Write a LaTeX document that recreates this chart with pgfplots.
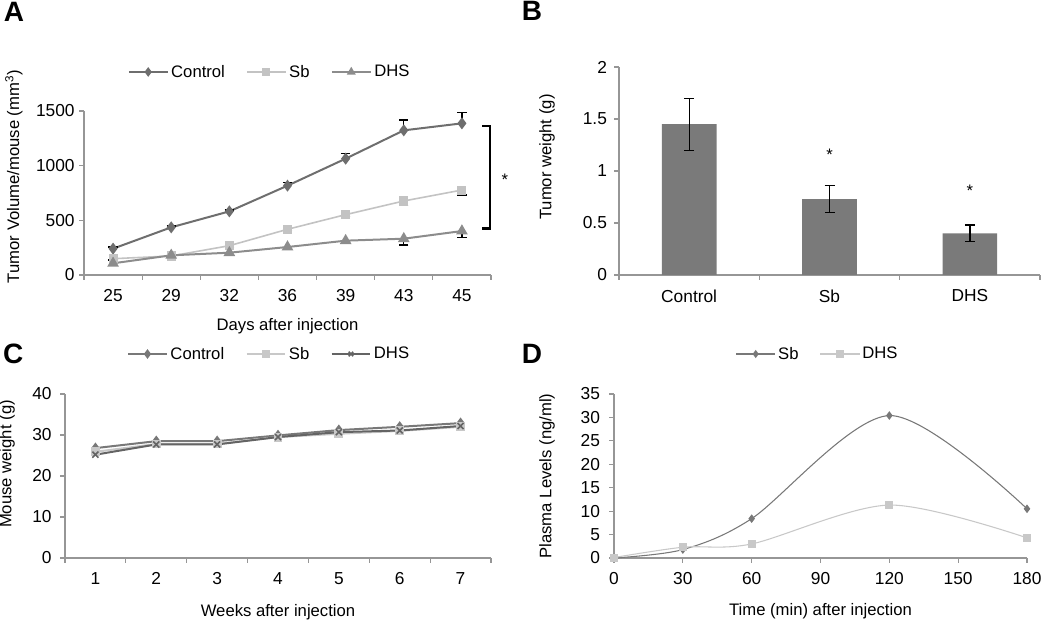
\documentclass[border=0pt]{standalone}
\usepackage{fontspec}
\setmainfont{Liberation Sans}
\usepackage{pgfplots}
\pgfplotsset{compat=1.18}
\definecolor{axgray}{RGB}{150,150,150}
\definecolor{cctrl}{RGB}{110,110,110}
\definecolor{csb}{RGB}{195,195,195}
\definecolor{cdhs}{RGB}{140,140,140}
\definecolor{cbar}{RGB}{122,122,122}
\newcommand{\fs}{\fontsize{12.5}{14}\selectfont}
\newcommand{\ft}{\fontsize{13}{15}\selectfont}
\pgfplotsset{
  base/.style={
    scale only axis,
    axis x line*=bottom, axis y line*=left,
    axis line style={draw=axgray, line width=0.9pt, -},
    tick align=outside,
    major tick length=3.5pt, minor tick length=3.5pt,
    tick style={draw=axgray, line width=0.9pt},
    every tick label/.append style={font=\ft},
    xticklabel style={yshift=-4pt},
    label style={font=\fs},
    /pgf/number format/assume math mode=true,
    /pgf/number format/1000 sep={},
    clip=false,
    legend style={draw=none, fill=none, font=\fs, legend columns=-1, anchor=center,
      /tikz/every even column/.append style={column sep=14pt}},
    legend image code/.code={
      \draw[mark repeat=2,mark phase=2,##1,mark size=2.4pt] plot coordinates {(0pt,0pt) (14.5pt,0pt) (29pt,0pt)};
    },
  },
}
\begin{document}
\begin{tikzpicture}
\path[use as bounding box] (0,0) rectangle (787.5pt,466.5pt);
\node[font=\fontsize{21}{24}\selectfont\bfseries] at (10.5pt,457.5pt) {A};
\node[font=\fontsize{21}{24}\selectfont\bfseries] at (399pt,458.25pt) {B};
\node[font=\fontsize{21}{24}\selectfont\bfseries] at (10pt,201pt) {C};
\node[font=\fontsize{21}{24}\selectfont\bfseries] at (399pt,201pt) {D};

% Panel A
\begin{axis}[base, at={(63pt,260.25pt)}, anchor=south west,
  width=305.25pt, height=123pt,
  xmin=-0.5, xmax=6.5, ymin=0, ymax=1500,
  xtick={0,...,6}, xticklabels={25,29,32,36,39,43,45},
  minor xtick={-0.5,0.5,...,6.5},
  major x tick style={draw=none},
  ytick={0,500,1000,1500},
  xlabel={Days after injection}, ylabel={Tumor Volume/mouse (mm\textsuperscript{3})},
  xlabel style={at={(axis description cs:0.5,-0.31)}, anchor=center},
  ylabel style={at={(axis description cs:-0.172,0.6)}, anchor=center},
  legend style={at={(0.457,1.238)}},
]
\addplot[cctrl, line width=1.5pt, mark=diamond*, mark size=3.3pt, mark options={solid, fill=cctrl},
  error bars/.cd, y dir=plus, y explicit, error bar style={black, line width=0.9pt},
  error mark options={black, rotate=90, mark size=3.5pt, line width=0.9pt}]
coordinates {(0,241) +- (0,15) (1,436) +- (0,12) (2,582) +- (0,12) (3,817) +- (0,28)
  (4,1064) +- (0,49) (5,1323) +- (0,95) (6,1387) +- (0,100)};
\addlegendentry{Control}
\addplot[csb, line width=1.2pt, mark=square*, mark size=2.8pt, mark options={solid, fill=csb},
  error bars/.cd, y dir=minus, y explicit, error bar style={black, line width=0.9pt},
  error mark options={black, rotate=90, mark size=3.5pt, line width=0.9pt}]
coordinates {(0,149) +- (0,12) (1,174) +- (0,10) (2,268) +- (0,12) (3,418) +- (0,10)
  (4,552) +- (0,15) (5,677) +- (0,43) (6,777) +- (0,45)};
\addlegendentry{Sb}
\addplot[cdhs, line width=1.5pt, mark=triangle*, mark size=3.6pt, mark options={solid, fill=cdhs},
  error bars/.cd, y dir=minus, y explicit, error bar style={black, line width=0.9pt},
  error mark options={black, rotate=90, mark size=3.5pt, line width=0.9pt}]
coordinates {(0,107) +- (0,20) (1,180) +- (0,10) (2,204) +- (0,15) (3,256) +- (0,15)
  (4,314) +- (0,18) (5,332) +- (0,58) (6,402) +- (0,61)};
\addlegendentry{DHS}
\draw[black, line width=2pt] (axis cs:6.35,1363) -- (axis cs:6.48,1363) -- (axis cs:6.48,427) -- (axis cs:6.35,427);
\node[font=\fs] at (axis cs:6.74,869) {*};
\end{axis}

% Panel B
\begin{axis}[base, at={(464.25pt,260.25pt)}, anchor=south west,
  width=315.75pt, height=156pt,
  xmin=-0.5, xmax=2.5, ymin=0, ymax=2,
  ybar, bar width=41pt,
  xtick={0,1,2}, xticklabels={Control,Sb,DHS},
  minor xtick={-0.5,0.5,1.5,2.5}, major x tick style={draw=none},
  ytick={0,0.5,1,1.5,2},
  yticklabel style={xshift=-2pt},
  ylabel={Tumor weight (g)},
  ylabel style={at={(axis description cs:-0.171,0.567)}, anchor=center},
]
\addplot[fill=cbar, draw=none,
  error bars/.cd, y dir=both, y explicit, error bar style={black, line width=1pt},
  error mark options={black, rotate=90, mark size=3.75pt, line width=1pt}]
coordinates {(0,1.45) +- (0,0.25) (1,0.73) +- (0,0.13) (2,0.40) +- (0,0.08)};
\node[font=\fs] at (axis cs:1,1.154) {*};
\node[font=\fs] at (axis cs:2,0.81) {*};
\end{axis}

% Panel C
\begin{axis}[base, at={(48.75pt,48pt)}, anchor=south west,
  width=319.5pt, height=123pt,
  xmin=0.5, xmax=7.5, ymin=0, ymax=40,
  xtick={1,...,7}, minor xtick={0.5,1.5,...,7.5}, major x tick style={draw=none},
  ytick={0,10,20,30,40},
  yticklabel style={xshift=-3pt},
  xlabel={Weeks after injection}, ylabel={Mouse weight (g)},
  xlabel style={at={(axis description cs:0.5,-0.329)}, anchor=center},
  ylabel style={at={(axis description cs:-0.136,0.573)}, anchor=center},
  legend style={at={(0.48,1.244)}},
]
\addplot[color={rgb,255:red,120;green,120;blue,120}, line width=1.5pt, mark=diamond*, mark size=3pt, mark options={solid}]
coordinates {(1,26.8) (2,28.5) (3,28.5) (4,29.9) (5,31.2) (6,32.0) (7,32.9)};
\addlegendentry{Control}
\addplot[color={rgb,255:red,200;green,200;blue,200}, line width=1.5pt, mark=square*, mark size=2.6pt, mark options={solid}]
coordinates {(1,25.9) (2,27.8) (3,27.8) (4,29.5) (5,30.3) (6,31.0) (7,32.0)};
\addlegendentry{Sb}
\addplot[color={rgb,255:red,100;green,100;blue,100}, line width=1.5pt, mark=x, mark size=3.2pt, mark options={solid, line width=1.2pt}]
coordinates {(1,25.2) (2,27.7) (3,27.7) (4,29.5) (5,30.7) (6,31.1) (7,32.2)};
\addlegendentry{DHS}
\end{axis}

% Panel D
\begin{axis}[base, at={(460.5pt,48pt)}, anchor=south west,
  width=309.75pt, height=123pt,
  xmin=0, xmax=180, ymin=0, ymax=35,
  xtick={0,30,...,180}, ytick={0,5,...,35},
  yticklabel style={xshift=-3.5pt},
  xlabel={Time (min) after injection}, ylabel={Plasma Levels (ng/ml)},
  xlabel style={at={(axis description cs:0.5,-0.323)}, anchor=center},
  ylabel style={at={(axis description cs:-0.162,0.5)}, anchor=center},
  legend style={at={(0.494,1.244)}},
]
\addplot[color={rgb,255:red,120;green,120;blue,120}, line width=0.8pt, smooth, mark=diamond*, mark size=2.6pt, mark options={solid}]
coordinates {(0,0) (30,1.8) (60,8.4) (120,30.4) (180,10.5)};
\addlegendentry{Sb}
\addplot[color={rgb,255:red,200;green,200;blue,200}, line width=0.8pt, smooth, mark=square*, mark size=2.6pt, mark options={solid}]
coordinates {(0,0.1) (30,2.3) (60,3.0) (120,11.3) (180,4.3)};
\addlegendentry{DHS}
\end{axis}
\end{tikzpicture}
\end{document}
